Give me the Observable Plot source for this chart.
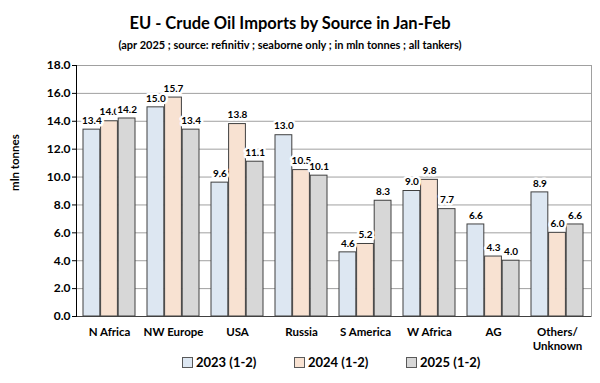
<!DOCTYPE html>
<html><head><meta charset="utf-8">
<script src="https://cdn.jsdelivr.net/npm/d3@7"></script>
<script src="https://cdn.jsdelivr.net/npm/@observablehq/plot@0.6"></script>
<style>
body{margin:0;background:#fff;}
#wrap{width:600px;height:383px;position:relative;overflow:hidden;font-family:Lato,"Open Sans",sans-serif;font-weight:bold;color:#000}
.title{position:absolute;left:0;width:580px;top:12px;text-align:center;font-size:16.5px;line-height:22px}
.sub{position:absolute;left:0;width:580px;top:38px;text-align:center;font-size:11px;line-height:14px}
#chart{position:absolute;left:0;top:56px}
#legend{position:absolute;left:182px;top:352px;height:20px;display:flex}
.item{width:112px;display:flex;align-items:center;font-size:13px;line-height:20px}
.sw{width:9px;height:9px;border:1px solid #595959;margin-right:3px}
</style></head><body>
<div id="wrap">
<div class="title">EU - Crude Oil Imports by Source in Jan-Feb</div>
<div class="sub">(apr 2025 ; source: refinitiv ; seaborne only ; in mln tonnes ; all tankers)</div>
<div id="chart"></div>
<div id="legend"></div>
</div>
<script>
const categories = ["N Africa","NW Europe","USA","Russia","S America","W Africa","AG","Others/\nUnknown"];
const series = ["2023 (1-2)","2024 (1-2)","2025 (1-2)"];
const v2023 = [13.4, 15.0, 9.6, 13.0, 4.6, 9.0, 6.6, 8.9];
const v2024 = [14.0, 15.7, 13.8, 10.5, 5.2, 9.8, 4.3, 6.0];
const v2025 = [14.2, 13.4, 11.1, 10.1, 8.3, 7.7, 4.0, 6.6];
const colors = ["#dde7f2","#f8e2d2","#d7d7d7"];
const yTicks = [0,2,4,6,8,10,12,14,16,18];
const values = [v2023, v2024, v2025];

const W = 600, H = 296, ML = 76, MR = 9, MT = 9, MB = 36;
const xOpts = {type:"band", domain:categories, range:[ML, W-MR], paddingInner:0.18, paddingOuter:0.09};
const bw = Plot.scale({x: xOpts}).bandwidth;
const sub = bw/3;

const rowsFor = i => categories.map((c, j) => ({cat:c, series:series[i], value:values[i][j]}));
const barMarks = series.map((s, i) =>
  Plot.barY(rowsFor(i), {x:"cat", y:"value", fill: colors[i], stroke:"#404040", strokeWidth:1,
    insetLeft: i*sub, insetRight: (2-i)*sub}));
const labelMarks = series.map((s, i) =>
  Plot.text(rowsFor(i), {x:"cat", y:"value", text: d => d.value.toFixed(1), dx: (i-1)*sub, dy:-9,
    fill:"black", stroke:"white", strokeWidth:5, fontSize:10, fontWeight:"bold"}));

const plot = Plot.plot({
  width: W, height: H, marginLeft: ML, marginRight: MR, marginTop: MT, marginBottom: MB,
  style: {fontFamily: "Lato, 'Open Sans', sans-serif", fontWeight: "bold", fontSize: "11px", color: "#000", background: "white", overflow: "visible"},
  x: {domain: categories, paddingInner: 0.18, paddingOuter: 0.09},
  y: {domain: [0, 18]},
  marks: [
    Plot.ruleY(yTicks, {stroke: "#a0a0a0"}),
    Plot.frame({stroke: "#a0a0a0"}),
    ...barMarks,
    Plot.ruleY([0], {stroke: "#404040"}),
    Plot.frame({anchor: "left", stroke: "#000"}),
    Plot.axisY(yTicks, {tickFormat: d => d.toFixed(1), tickSize: 4, tickPadding: 2, fontSize: 12, fontWeight: "bold", label: null}),
    Plot.axisX({tickSize: 0, tickPadding: 10, fontSize: 11.5, fontWeight: "bold", lineHeight: 1.2, label: null}),
    ...labelMarks,
    Plot.text(["mln tonnes"], {frameAnchor: "left", dx: -61, rotate: -90, fontSize: 11.5, fontWeight: "bold", fill: "black"})
  ]
});
document.getElementById("chart").appendChild(plot);

const leg = document.getElementById("legend");
series.forEach((s, i) => {
  const it = document.createElement("div"); it.className = "item";
  const sw = document.createElement("div"); sw.className = "sw"; sw.style.background = colors[i];
  const t = document.createElement("span"); t.textContent = s;
  it.appendChild(sw); it.appendChild(t); leg.appendChild(it);
});
</script>
</body></html>
